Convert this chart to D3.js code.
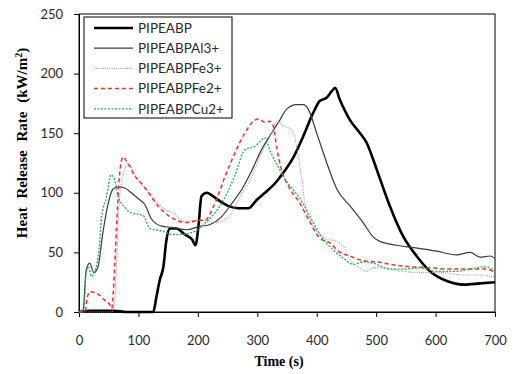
<!DOCTYPE html>
<html>
<head>
<meta charset="utf-8">
<script src="https://cdn.jsdelivr.net/npm/d3@7"></script>
<style>
  body { margin: 0; background: #fff; }
  .tick text { font-family: Lato, "Open Sans", sans-serif; font-size: 13px; fill: #2a2a2a; }
</style>
</head>
<body>
<div id="chart"></div>
<script>
// heat release rate curves, [time (s), HRR (kW/m2)]
var seriesNames = ["PIPEABP", "PIPEABPAl3+", "PIPEABPFe3+", "PIPEABPFe2+", "PIPEABPCu2+"];

var pipeabp = [[0,0],[20,1],[60,1],[80,0],[125,0],[130,12],[136,27],[142,38],[147,60],[153,70],[164,70],[178,65],
  [190,61],[196,56],[201,72],[206,97],[215,100],[226,97],[237,93],[251,89],[268,87],[285,87],[299,94],[313,100],
  [330,108],[344,117],[361,130],[377,147],[394,167],[405,177],[417,180],[425,185],[431,188],[439,178],[456,161],
  [473,150],[484,142],[495,128],[507,111],[523,89],[546,63],[568,47],[591,34],[619,26],[647,23],[675,24],[700,25]];

var al3 = [[0,0],[7,2],[12,35],[18,41],[25,33],[32,38],[40,66],[49,91],[57,103],[66,105],[77,104],[88,100],
  [100,95],[111,90],[122,78],[139,72],[156,71],[181,69],[204,72],[218,73],[240,80],[257,91],[274,103],[291,119],
  [307,136],[324,150],[338,161],[349,170],[366,174],[377,174],[386,170],[400,150],[417,125],[434,103],[456,89],
  [478,75],[495,63],[507,59],[535,56],[563,54],[602,51],[635,48],[658,50],[675,46],[692,47],[700,45]];

var fe3 = [[0,0],[55,0],[60,8],[64,52],[68,94],[77,119],[82,125],[91,119],[103,108],[114,103],[128,94],[145,86],
  [162,82],[175,76],[204,77],[229,75],[251,79],[268,94],[291,114],[307,133],[324,150],[333,160],[344,156],
  [355,154],[363,147],[369,130],[375,111],[380,91],[394,72],[414,62],[434,59],[445,55],[456,44],[473,37],
  [484,34],[495,37],[512,37],[546,34],[580,33],[613,33],[647,31],[675,31],[700,29]];

var fe2 = [[0,0],[10,0],[14,12],[18,17],[32,15],[43,10],[52,6],[55,3],[60,38],[64,80],[68,114],[74,130],[82,125],
  [94,114],[105,108],[117,100],[133,89],[156,79],[181,75],[204,77],[212,77],[226,88],[246,114],[262,133],
  [279,150],[296,161],[302,162],[313,159],[321,160],[327,156],[333,137],[341,119],[352,106],[372,91],[389,75],
  [405,62],[422,58],[439,50],[456,47],[478,43],[501,42],[523,40],[557,38],[591,37],[624,36],[658,36],[686,36],[700,33]];

var cu2 = [[0,0],[8,2],[12,33],[16,38],[21,30],[29,38],[35,60],[38,80],[46,96],[54,115],[60,111],[66,97],[77,88],
  [89,83],[100,82],[108,81],[119,70],[139,68],[159,65],[170,65],[192,67],[215,76],[240,91],[262,114],[279,136],
  [296,139],[313,146],[321,136],[335,122],[347,111],[355,106],[377,91],[394,75],[411,61],[428,52],[445,45],
  [462,40],[478,42],[495,41],[523,36],[546,36],[574,37],[602,34],[630,34],[658,36],[686,38],[700,34]];

var xTicks = [0, 100, 200, 300, 400, 500, 600, 700];
var yTicks = [0, 50, 100, 150, 200, 250];

var styles = [
  {color: "#000", width: 2.6, dash: null},
  {color: "#3a3a3a", width: 1.2, dash: null},
  {color: "#9a9a9a", width: 1.1, dash: "1,1.2"},
  {color: "#ff2a2a", width: 1.5, dash: "4,3"},
  {color: "#1fae4f", width: 1.3, dash: "2,1.5"}
];
var allData = [pipeabp, al3, fe3, fe2, cu2];

var W = 514, H = 374;
var margin = {top: 14, right: 19, bottom: 62, left: 79};
var width = W - margin.left - margin.right;
var height = H - margin.top - margin.bottom;

var svg = d3.select("#chart").append("svg")
  .attr("width", W)
  .attr("height", H);

var chart = svg.append("g")
  .attr("transform", "translate(" + margin.left + "," + margin.top + ")");

var x = d3.scaleLinear().domain([0, 700]).range([0, width]);
var y = d3.scaleLinear().domain([0, 250]).range([height, 0]);

// frame
chart.append("rect")
  .attr("width", width)
  .attr("height", height)
  .attr("fill", "none")
  .attr("stroke", "#000")
  .attr("stroke-width", 1);

var xAxis = chart.append("g")
  .attr("transform", "translate(0," + height + ")")
  .call(d3.axisBottom(x).tickValues(xTicks).tickSize(5).tickSizeOuter(0).tickPadding(19));
var yAxis = chart.append("g")
  .call(d3.axisLeft(y).tickValues(yTicks).tickSize(5).tickSizeOuter(0).tickPadding(11));
svg.selectAll(".domain").attr("stroke", "#000");
svg.selectAll(".tick line").attr("stroke", "#000");

var line = d3.line()
  .curve(d3.curveMonotoneX)
  .x(function (d) { return x(d[0]); })
  .y(function (d) { return y(d[1]); });

chart.selectAll(".hrr")
  .data(allData)
  .enter().append("path")
  .attr("class", "hrr")
  .attr("d", line)
  .attr("fill", "none")
  .attr("stroke-linejoin", "round")
  .attr("stroke", function (d, i) { return styles[i].color; })
  .attr("stroke-width", function (d, i) { return styles[i].width; })
  .attr("stroke-dasharray", function (d, i) { return styles[i].dash; });

// legend
var legend = svg.append("g").attr("transform", "translate(84,17)");
legend.append("rect")
  .attr("width", 148)
  .attr("height", 101)
  .attr("fill", "#fff")
  .attr("stroke", "#000")
  .attr("stroke-width", 1);
var item = legend.selectAll(".item")
  .data(seriesNames)
  .enter().append("g")
  .attr("transform", function (d, i) { return "translate(0," + (11 + i * 20.2) + ")"; });
item.append("line")
  .attr("x1", 10).attr("x2", 49)
  .attr("stroke", function (d, i) { return styles[i].color; })
  .attr("stroke-width", function (d, i) { return styles[i].width; })
  .attr("stroke-dasharray", function (d, i) { return styles[i].dash; });
item.append("text")
  .attr("x", 54)
  .attr("dy", "0.36em")
  .style("font", "13.5px Lato, sans-serif")
  .attr("fill", "#2a2a2a")
  .text(function (d) { return d; });

// axis titles
svg.append("text")
  .attr("x", 279)
  .attr("y", 366)
  .attr("text-anchor", "middle")
  .style("font", "bold 14px 'Liberation Serif', serif")
  .text("Time (s)");

var yTitle = svg.append("text")
  .attr("transform", "translate(27,143) rotate(-90)")
  .attr("text-anchor", "middle")
  .style("font", "bold 15px 'Liberation Serif', serif")
  .style("word-spacing", "5px");
yTitle.append("tspan").text("Heat Release Rate (kW/m");
yTitle.append("tspan").attr("dy", -5).style("font-size", "10px").text("2");
yTitle.append("tspan").attr("dy", 5).text(")");
</script>
</body>
</html>
